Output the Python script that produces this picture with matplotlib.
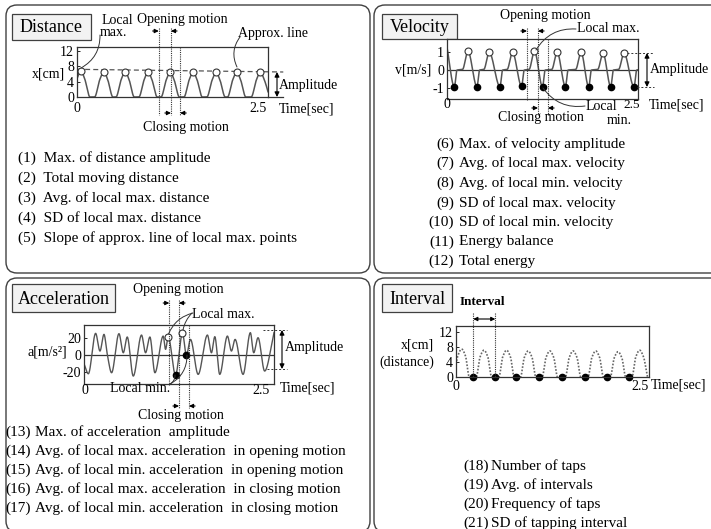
import numpy as np
import matplotlib.pyplot as plt
from matplotlib.patches import FancyBboxPatch, Rectangle
from matplotlib.transforms import blended_transform_factory

plt.rcParams['font.family'] = ['Liberation Serif', 'DejaVu Serif']

W, H = 711, 529
INK = '#333333'
CURVE = '#555555'

# ---- values ----
# distance
dist_peak_t = [0.05, 0.35, 0.63, 0.93, 1.22, 1.52, 1.82, 2.09, 2.40]
dist_peak_x = [6.8, 6.6, 6.6, 6.5, 6.5, 6.5, 6.4, 6.5, 6.5]
approx_t = [0.0, 2.7]
approx_x = [7.2, 6.5]
dist_phase_t = [1.07, 1.23, 1.35]

# velocity
vel_max_t = [0.274, 0.553, 0.858, 1.145, 1.442, 1.755, 2.043, 2.317]
vel_max_v = [1.05, 0.98, 0.98, 1.05, 0.98, 0.98, 0.93, 0.93]
vel_min_t = [0.096, 0.392, 0.693, 0.976, 1.25, 1.55, 1.855, 2.143, 2.448]
vel_min_v = [-0.93, -0.92, -0.92, -0.90, -0.93, -0.92, -0.93, -0.92, -0.93]
vel_phase_t = [1.047, 1.191, 1.322]

# acceleration
acc_t = [0.0, 0.057, 0.153, 0.210, 0.263, 0.306, 0.363, 0.460, 0.517, 0.569,
         0.648, 0.757, 0.810, 0.867, 0.933, 1.042, 1.073, 1.108, 1.204, 1.296,
         1.348, 1.401, 1.502, 1.624, 1.677, 1.721, 1.786, 1.887, 1.940, 1.988,
         2.093, 2.189, 2.233, 2.290, 2.377, 2.5]
acc_a = [-10.2, -22.0, 25.5, 4.7, 24.3, 1.2, -20.8, 25.1, 2.7, 21.2,
         -24.7, 23.5, 2.7, 21.2, -20.8, 22.3, 6.7, 21.6, -23.5, 25.5,
         -0.4, 18.4, -22.7, 23.5, 2.7, 21.6, -22.7, 22.3, 4.7, 18.4,
         -22.7, 26.3, 2.7, 20.4, -18.8, 26.3]
acc_max_t = [1.108, 1.296]
acc_max_a = [21.6, 25.5]
acc_min_t = [1.204, 1.348]
acc_min_a = [-23.5, -0.4]
acc_phase_t = [1.122, 1.25, 1.382]

# interval
int_peak_t = [0.073, 0.362, 0.655, 0.935, 1.216, 1.517, 1.81, 2.099, 2.379]
int_peak_x = [7.4, 7.1, 7.1, 6.9, 6.9, 6.9, 6.9, 6.7, 7.1]
int_tap_t = [0.224, 0.509, 0.776, 1.069, 1.375, 1.677, 1.961, 2.241]
int_tap_x = [0, 0, 0, 0, 0, 0, 0, 0]

dist_items = ["(1)  Max. of distance amplitude",
              "(2)  Total moving distance",
              "(3)  Avg. of local max. distance",
              "(4)  SD of local max. distance",
              "(5)  Slope of approx. line of local max. points"]
vel_nums = ["(6)", "(7)", "(8)", "(9)", "(10)", "(11)", "(12)"]
vel_items = ["Max. of velocity amplitude", "Avg. of local max. velocity",
             "Avg. of local min. velocity", "SD of local max. velocity",
             "SD of local min. velocity", "Energy balance", "Total energy"]
acc_nums = ["(13)", "(14)", "(15)", "(16)", "(17)"]
acc_items = ["Max. of acceleration  amplitude",
             "Avg. of local max. acceleration  in opening motion",
             "Avg. of local min. acceleration  in opening motion",
             "Avg. of local max. acceleration  in closing motion",
             "Avg. of local min. acceleration  in closing motion"]
int_nums = ["(18)", "(19)", "(20)", "(21)"]
int_items = ["Number of taps", "Avg. of intervals", "Frequency of taps",
             "SD of tapping interval"]


def pchip(t, v, tt):
    # monotone cubic through the read points (keeps peaks flat on top)
    t = np.asarray(t, float)
    v = np.asarray(v, float)
    h = np.diff(t)
    dl = np.diff(v) / h
    d = np.zeros_like(v)
    d[0] = dl[0]
    d[-1] = dl[-1]
    for i in range(1, len(v) - 1):
        if dl[i - 1] * dl[i] > 0:
            w1 = 2 * h[i] + h[i - 1]
            w2 = h[i] + 2 * h[i - 1]
            d[i] = (w1 + w2) / (w1 / dl[i - 1] + w2 / dl[i])
    k = np.clip(np.searchsorted(t, tt) - 1, 0, len(h) - 1)
    s = (tt - t[k]) / h[k]
    h00 = 2 * s**3 - 3 * s**2 + 1
    h10 = s**3 - 2 * s**2 + s
    h01 = -2 * s**3 + 3 * s**2
    h11 = s**3 - s**2
    return h00 * v[k] + h10 * h[k] * d[k] + h01 * v[k + 1] + h11 * h[k] * d[k + 1]


def px_axes(x0, y0, x1, y1):
    return fig.add_axes([x0 / W, 1 - y1 / H, (x1 - x0) / W, (y1 - y0) / H], zorder=5)


def style_axes(ax, ylim, yticks):
    ax.set_xlim(0, 2.5)
    ax.set_ylim(*ylim)
    for s in ax.spines.values():
        s.set_color(INK)
        s.set_linewidth(0.9)
    ax.set_yticks(yticks)
    ax.set_yticklabels([str(v) for v in yticks])
    ax.set_xticks([])
    ax.tick_params(axis='y', length=2, width=0.6, direction='in', labelsize=10, pad=2)


def txt(x, y, s, ha='left', va='center', size=10, **kw):
    ax_fg.text(x, y, s, ha=ha, va=va, fontsize=size, **kw)


def leader(x0, y0, x1, y1, rad):
    ax_fg.annotate('', xy=(x1, y1), xytext=(x0, y0),
                   arrowprops=dict(arrowstyle='-', color=INK, lw=0.7,
                                   shrinkA=0, shrinkB=0,
                                   connectionstyle='arc3,rad=%s' % rad))


def amp_arrow(x, y0, y1):
    ax_fg.annotate('', xy=(x, y1), xytext=(x, y0),
                   arrowprops=dict(arrowstyle='<|-|>', color='black', lw=0.8,
                                   mutation_scale=7, shrinkA=0, shrinkB=0))


def phases(ax, pt, ytops, ybots, y_open, y_close, L=0.08):
    bl = blended_transform_factory(ax.transData, ax_fg.transData)
    for t, yt, yb in zip(pt, ytops, ybots):
        ax_fg.plot([t, t], [yt, yb], transform=bl, color=INK, lw=0.8,
                   ls=(0, (1, 1)), clip_on=False)
    ap = dict(arrowstyle='-|>', color='black', lw=0.8, mutation_scale=6,
              shrinkA=0, shrinkB=0)
    for (ta, tb, y) in [(pt[0], pt[1], y_open), (pt[1], pt[2], y_close)]:
        ax_fg.annotate('', xy=(ta, y), xytext=(ta - L, y), xycoords=bl,
                       textcoords=bl, arrowprops=ap, annotation_clip=False)
        ax_fg.annotate('', xy=(tb, y), xytext=(tb + L, y), xycoords=bl,
                       textcoords=bl, arrowprops=ap, annotation_clip=False)


fig = plt.figure(figsize=(W / 100, H / 100), dpi=100)

ax_bg = fig.add_axes([0, 0, 1, 1], zorder=0)
ax_bg.set_xlim(0, W)
ax_bg.set_ylim(H, 0)
ax_bg.axis('off')
ax_fg = fig.add_axes([0, 0, 1, 1], zorder=10)
ax_fg.set_xlim(0, W)
ax_fg.set_ylim(H, 0)
ax_fg.axis('off')
ax_fg.patch.set_visible(False)

# panel frames
for (x0, y0, x1, y1) in [(6, 5, 370, 273), (374, 5, 722, 273),
                         (6, 278, 370, 532), (374, 278, 722, 532)]:
    ax_bg.add_patch(FancyBboxPatch((x0, y0), x1 - x0, y1 - y0,
                                   boxstyle='round,pad=0,rounding_size=11',
                                   fc='white', ec='#404040', lw=1.0))
for (x0, y0, x1, y1, name) in [(12, 14, 91, 40, 'Distance'),
                               (382, 14, 457, 39, 'Velocity'),
                               (12, 284, 115, 312, 'Acceleration'),
                               (382, 284, 452, 312, 'Interval')]:
    ax_bg.add_patch(Rectangle((x0, y0), x1 - x0, y1 - y0, fc='#f2f2f2',
                              ec='#404040', lw=0.9))
    ax_bg.text((x0 + x1) / 2, (y0 + y1) / 2 + 1, name, ha='center', va='center',
               fontsize=13)

tt = np.linspace(0, 2.5, 1200)

# ---- Distance ----
axd = px_axes(77, 47, 268, 97)
style_axes(axd, (0, 13), [0, 4, 8, 12])
kt, kv = [], []
for tp, hp in zip(dist_peak_t, dist_peak_x):
    for o, f in zip([-0.12, -0.05, 0, 0.05, 0.12], [0, 0.7, 1, 0.7, 0]):
        kt.append(tp + o)
        kv.append(hp * f)
axd.plot(tt, pchip(kt, kv, tt), color=CURVE, lw=1.1)
axd.plot(approx_t, approx_x, color=CURVE, lw=0.9, ls=(0, (4, 2.5)), clip_on=False)
axd.plot(dist_peak_t, dist_peak_x, 'o', ms=5, mfc='white', mec=INK, mew=0.8)
ax_fg.plot([268, 283], [97, 97], color=INK, lw=0.9)
phases(axd, dist_phase_t, [28, 28, 47], [115, 115, 115], 31, 113)
amp_arrow(277, 72, 97)
txt(117, 20, 'Local', ha='center')
txt(100, 33, 'max.')
txt(182, 20, 'Opening motion', ha='center')
txt(238, 33, 'Approx. line')
txt(279, 86, 'Amplitude')
txt(279, 109, 'Time[sec]')
txt(77, 109, '0', ha='center')
txt(267, 109, '2.5', ha='right')
txt(65, 74, 'x[cm]', ha='right')
txt(186, 128, 'Closing motion', ha='center')
leader(100, 35, 81, 68, -0.3)
leader(240, 37, 237, 67, 0.3)
for i, s in enumerate(dist_items):
    ax_fg.text(18, 158.5 + 20 * i, s, ha='left', va='center', fontsize=11)

# ---- Velocity ----
axv = px_axes(447, 39, 638, 99)
style_axes(axv, (-1.6, 1.72), [-1, 0, 1])
axv.axhline(0, color=INK, lw=0.9)
kt, kv = [0.0], [1.25]
for i, (tm, vm) in enumerate(zip(vel_min_t, vel_min_v)):
    kt += [tm, tm + 0.035]
    kv += [vm, 0.0]
    if i < len(vel_max_t):
        kt += [vel_max_t[i] - 0.07, vel_max_t[i]]
        kv += [0.04, vel_max_v[i]]
kt.append(2.52)
kv.append(0.03)
axv.plot(tt, pchip(kt, kv, tt), color=CURVE, lw=1.1)
axv.plot(vel_max_t, vel_max_v, 'o', ms=5, mfc='white', mec=INK, mew=0.8)
axv.plot(vel_min_t, vel_min_v, 'o', ms=4.5, color='black')
phases(axv, vel_phase_t, [28, 28, 39], [100, 115, 115], 31, 108)
ax_fg.plot([627, 654], [53, 53], color=INK, lw=0.7, ls=(0, (2, 2)))
ax_fg.plot([637, 654], [87, 87], color=INK, lw=0.7, ls=(0, (2, 2)))
amp_arrow(647, 53, 87)
txt(545, 15, 'Opening motion', ha='center')
txt(577, 29, 'Local max.')
txt(413, 70, 'v[m/s]', ha='center')
txt(650, 70, 'Amplitude')
txt(649, 105, 'Time[sec]')
txt(447, 105, '0', ha='center')
txt(632, 105, '2.5', ha='center', size=9.5)
txt(586, 107, 'Local')
txt(607, 120, 'min.')
txt(541, 118, 'Closing motion', ha='center')
leader(576, 29, 536, 50, 0.3)
leader(543, 88, 585, 106, 0.3)
for i, (n, s) in enumerate(zip(vel_nums, vel_items)):
    ax_fg.text(454, 144 + 19.6 * i, n, ha='right', va='center', fontsize=11)
    ax_fg.text(459, 144 + 19.6 * i, s, ha='left', va='center', fontsize=11)

# ---- Acceleration ----
axa = px_axes(84, 325, 274, 384)
style_axes(axa, (-34, 35.3), [-20, 0, 20])
axa.axhline(0, color=INK, lw=0.9)
axa.plot(tt, pchip(acc_t, acc_a, tt), color=CURVE, lw=1.0)
axa.plot(acc_max_t, acc_max_a, 'o', ms=5, mfc='white', mec=INK, mew=0.8)
axa.plot(acc_min_t, acc_min_a, 'o', ms=4.5, color='black')
phases(axa, acc_phase_t, [300, 300, 325], [385, 408, 408], 303, 406)
ax_fg.plot([263, 287], [330, 330], color=INK, lw=0.7, ls=(0, (2, 2)))
ax_fg.plot([267, 287], [369, 369], color=INK, lw=0.7, ls=(0, (2, 2)))
amp_arrow(282, 330, 369)
txt(178, 290, 'Opening motion', ha='center')
txt(192, 314, 'Local max.')
txt(47, 352, 'a[m/s²]', ha='center')
txt(285, 348, 'Amplitude')
txt(110, 388, 'Local min.')
txt(85, 390, '0', ha='center')
txt(270, 390, '2.5', ha='right')
txt(280, 388, 'Time[sec]')
txt(181, 415, 'Closing motion', ha='center')
leader(193, 313, 168.5, 334, 0.25)
leader(192, 313, 183, 330, 0.15)
leader(170, 384, 175, 375, 0.3)
leader(170, 384, 187, 355, 0.3)
for i, (n, s) in enumerate(zip(acc_nums, acc_items)):
    ax_fg.text(5, 432 + 19 * i, n, ha='left', va='center', fontsize=11)
    ax_fg.text(35, 432 + 19 * i, s, ha='left', va='center', fontsize=11)

# ---- Interval ----
axi = px_axes(456, 326, 649, 377)
style_axes(axi, (0, 13.5), [0, 4, 8, 12])
kt, kv = [], []
for tp, hp in zip(int_peak_t, int_peak_x):
    for o, f in zip([-0.1, -0.05, 0, 0.05, 0.1], [0, 0.75, 1, 0.75, 0]):
        kt.append(tp + o)
        kv.append(hp * f)
axi.plot(tt, pchip(kt, kv, tt), color='#666666', lw=1.2, ls=(0, (1, 1)))
axi.plot(int_tap_t, int_tap_x, 'o', ms=4.5, color='black', clip_on=False)
bl = blended_transform_factory(axi.transData, ax_fg.transData)
for t in int_tap_t[:2]:
    ax_fg.plot([t, t], [313, 377], transform=bl, color=INK, lw=0.8,
               ls=(0, (1, 1)), clip_on=False)
ax_fg.annotate('', xy=(int_tap_t[1], 319), xytext=(int_tap_t[0], 319),
               xycoords=bl, textcoords=bl, annotation_clip=False,
               arrowprops=dict(arrowstyle='<|-|>', color='black', lw=0.8,
                               mutation_scale=6, shrinkA=0, shrinkB=0))
txt(482, 302, 'Interval', ha='center', size=9.5, fontweight='bold')
txt(417, 345, 'x[cm]', ha='center')
txt(407, 362, '(distance)', ha='center')
txt(456, 387, '0', ha='center')
txt(649, 387, '2.5', ha='right')
txt(651, 385, 'Time[sec]')
for i, (n, s) in enumerate(zip(int_nums, int_items)):
    ax_fg.text(463, 466 + 19 * i, n, ha='left', va='center', fontsize=11)
    ax_fg.text(491, 466 + 19 * i, s, ha='left', va='center', fontsize=11)

fig.savefig('out.png', dpi=100)
